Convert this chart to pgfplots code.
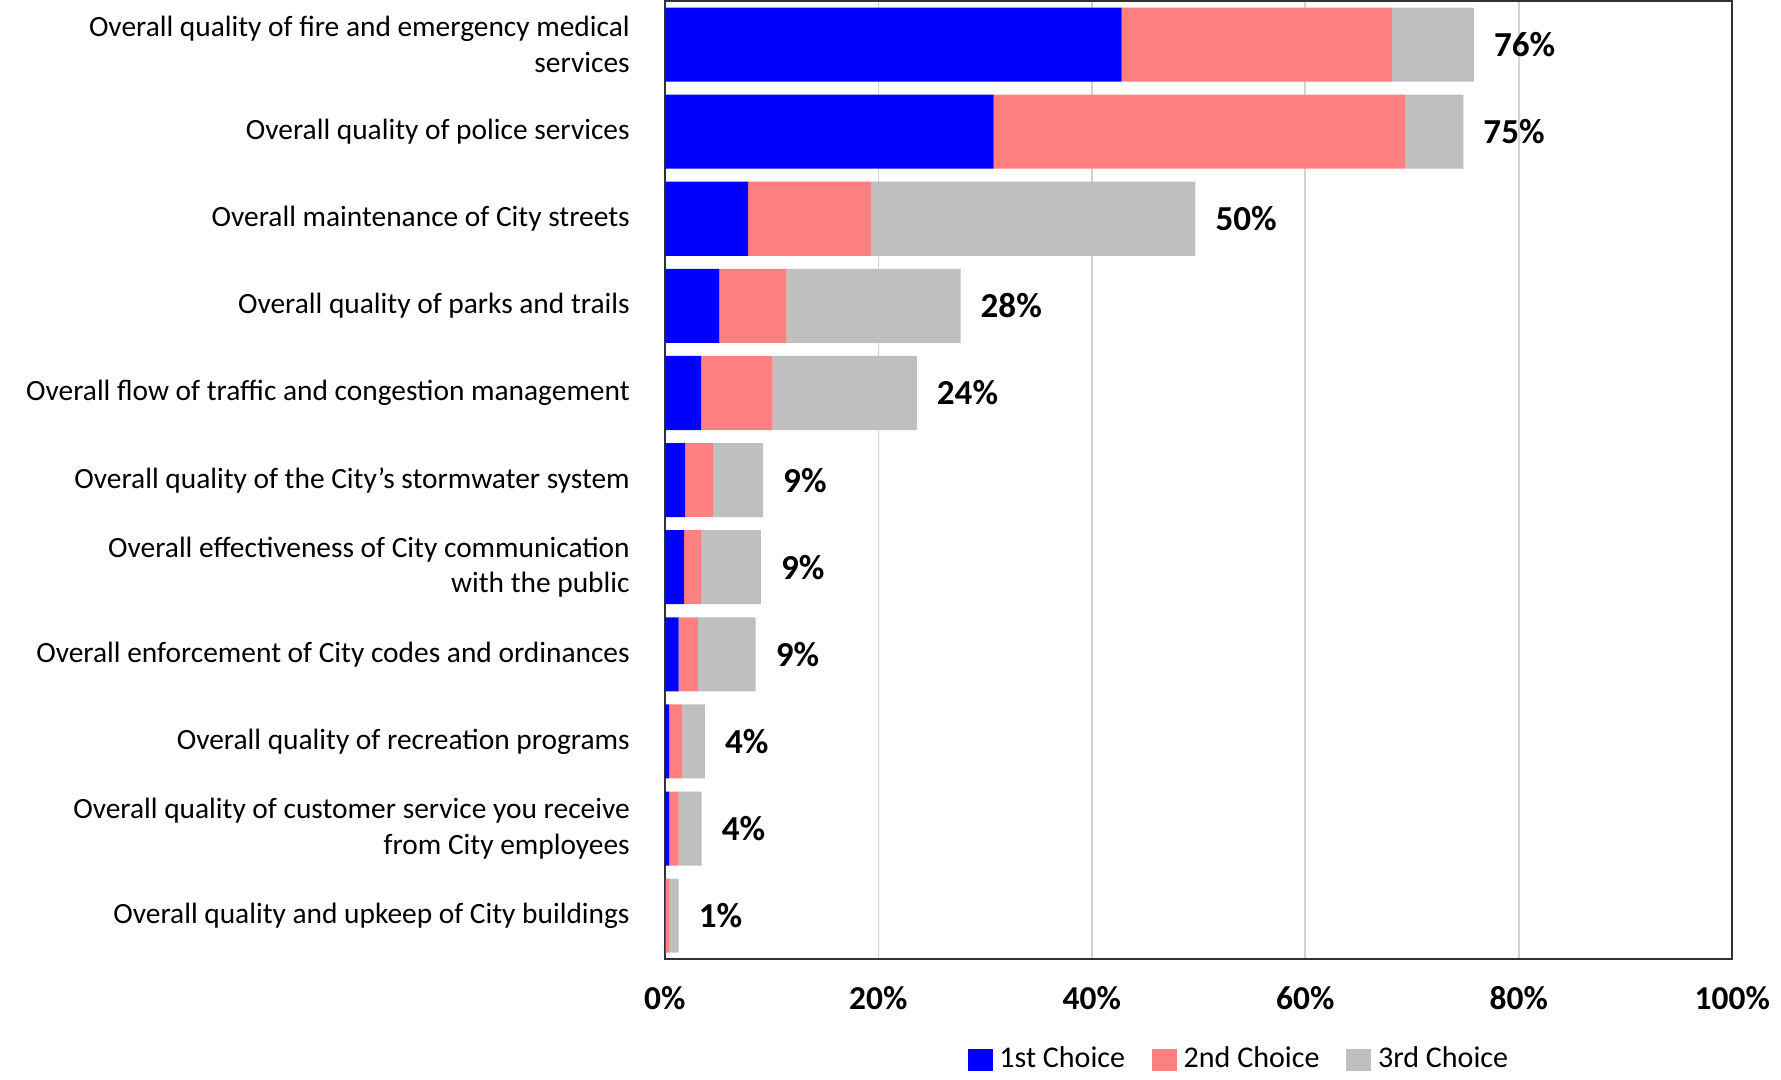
\documentclass[border=0pt]{standalone}
\usepackage{pgfplots}
\pgfplotsset{compat=1.18}
\usepackage{pgfplotstable}
\usepackage{fontspec}
\setmainfont{Carlito}[Ligatures=ResetAll]
\definecolor{cA}{RGB}{0,0,255}
\definecolor{cB}{RGB}{255,128,128}
\definecolor{cC}{RGB}{191,191,191}
\pgfplotstableread{
idx a b c tot end
0 42.8 25.3 7.7 76 75.8
1 30.8 38.6 5.4 75 74.8
2 7.8 11.5 30.4 50 49.7
3 5.1 6.3 16.3 28 27.7
4 3.4 6.7 13.5 24 23.6
5 1.9 2.6 4.7 9 9.2
6 1.8 1.6 5.6 9 9.0
7 1.3 1.8 5.4 9 8.5
8 0.4 1.25 2.1 4 3.75
9 0.4 0.9 2.15 4 3.45
10 0.05 0.35 0.9 1 1.3
}\data
\pgfplotsset{common/.style={
  scale only axis,
  width=319.5pt, height=286.8pt,
  xmin=0, xmax=100,
  ymin=-0.5, ymax=10.5,
  y dir=reverse,
  /pgf/number format/assume math mode=true}}
\begin{document}
\begin{tikzpicture}
\begin{axis}[
  common,
  xbar stacked,
  bar width=0.85,
  ytick={0,...,10},
  yticklabels={
    {Overall quality of fire and emergency medical\\services},
    {Overall quality of police services},
    {Overall maintenance of City streets},
    {Overall quality of parks and trails},
    {Overall flow of traffic and congestion management},
    {Overall quality of the City's stormwater system},
    {Overall effectiveness of City communication\\with the public},
    {Overall enforcement of City codes and ordinances},
    {Overall quality of recreation programs},
    {Overall quality of customer service you receive\\from City employees},
    {Overall quality and upkeep of City buildings}},
  yticklabel style={align=right, font=\fontsize{8.8}{10.6}\selectfont, xshift=-7pt},
  xtick={0,20,...,100},
  xticklabel={\textbf{\pgfmathprintnumber{\tick}\%}},
  xticklabel style={font=\fontsize{10}{12}\selectfont, yshift=-4.5pt},
  xmajorgrids,
  grid style={gray!35, line width=0.5pt},
  major tick length=0,
  axis line style={black!80, line width=0.6pt},
  legend columns=3,
  legend style={draw=none, at={(0.54,0)}, anchor=north, yshift=-24pt,
    inner sep=0pt, font=\fontsize{9}{10}\selectfont,
    /tikz/every even column/.append style={column sep=6pt}},
  legend image code/.code={\fill[#1] (0pt,-3.3pt) rectangle (7.5pt,3.3pt);},
]
\addplot[fill=cA, draw=none] table[x=a, y=idx] {\data};
\addlegendentry{1st Choice}
\addplot[fill=cB, draw=none] table[x=b, y=idx] {\data};
\addlegendentry{2nd Choice}
\addplot[fill=cC, draw=none] table[x=c, y=idx] {\data};
\addlegendentry{3rd Choice}
\end{axis}
\begin{axis}[common, hide axis]
\addplot[draw=none, mark=none, point meta=explicit,
  nodes near coords={\textbf{\pgfmathprintnumber{\pgfplotspointmeta}\%}},
  nodes near coords style={anchor=west, xshift=2.5pt, font=\fontsize{10.5}{12}\selectfont, text=black}]
  table[x=end, y=idx, meta=tot] {\data};
\end{axis}
\path ([xshift=-4.5pt]current bounding box.south west) rectangle (current bounding box.north east);
\end{tikzpicture}
\end{document}
